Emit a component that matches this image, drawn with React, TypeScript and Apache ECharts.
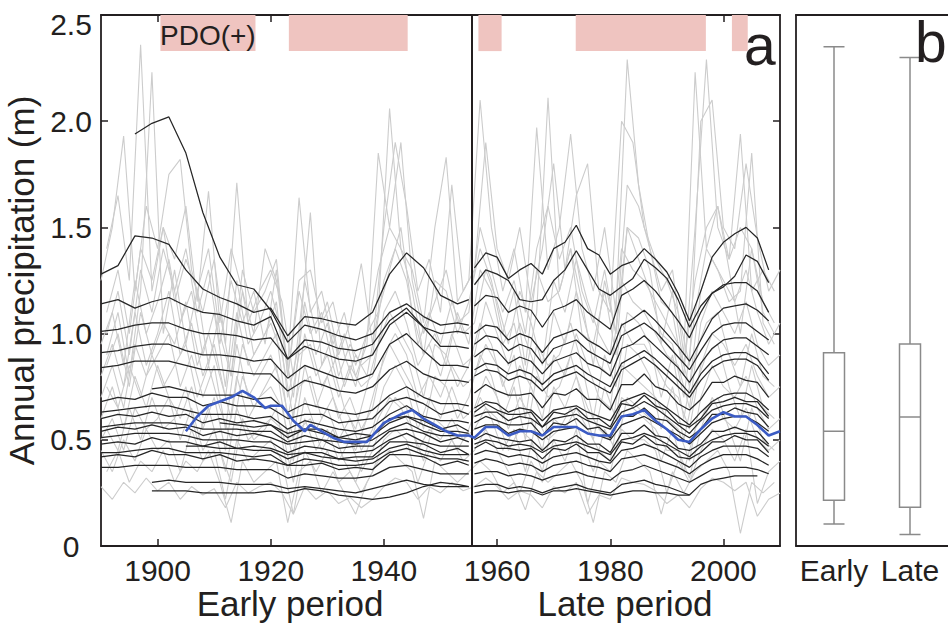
import React, { useEffect, useRef } from "react";
import * as echarts from "echarts";

const FONT = "'Liberation Sans', Arial, sans-serif";
const INK = "#231f20";
const N = null;

// ---- axes / annotations ----
const X_TICKS = [1900, 1920, 1940, 1960, 1980, 2000];
const PERIOD_SPLIT = 1955.5;
const PDO_START = [1900.5, 1923.2, 1956.7, 1973.9, 2001.5];
const PDO_END = [1917.3, 1944.2, 1960.8, 1996.9, 2004.3];
const PDO_BOTTOM = 2.33;
const PDO_TOP = 2.5;
const BOX_CATEGORIES = ["Early", "Late"];
// [min, Q1, median, Q3, max] in metres
const BOX_EARLY = [0.103, 0.215, 0.54, 0.91, 2.35];
const BOX_LATE = [0.054, 0.183, 0.607, 0.951, 2.3];

// ---- annual station series (grey), values in centimetres ----
const GRAY_EVEN_YEARS = Array.from({ length: 61 }, (_, i) => 1890 + 2 * i);
const GRAY_ODD_YEARS = Array.from({ length: 60 }, (_, i) => 1891 + 2 * i);

const G_E1 = [125,150,193,120,160,140,175,182,130,110,135,95,171,105,120,130,115,80,125,100,115,90,105,133,95,150,190,160,120,135,110,170,120,130,190,140,125,150,115,140,180,130,165,180,120,110,200,190,150,135,125,110,85,200,210,150,140,180,145,120,130];
const G_E2 = [80,95,75,110,85,100,120,90,105,80,95,70,110,85,95,105,90,60,100,80,90,70,85,75,80,110,120,105,85,95,80,100,85,90,115,100,85,105,90,75,110,95,120,100,85,80,125,115,110,100,90,85,65,105,120,110,100,115,95,85,90];
const G_E3 = [60,75,55,80,65,85,70,60,75,55,70,45,80,60,70,75,65,40,70,55,65,50,60,45,55,75,85,75,55,70,60,75,60,65,80,70,55,70,60,45,75,65,80,65,55,50,85,80,75,70,60,55,40,70,85,75,70,80,65,55,60];
const G_E4 = [45,35,50,40,55,45,50,35,55,40,45,22,50,40,45,50,40,15,45,35,45,30,35,25,35,50,55,50,30,45,40,50,40,45,55,45,35,25,40,30,50,40,55,20,40,35,55,50,50,45,25,40,30,45,55,50,40,55,20,35,40];
const G_E5 = [28,22,30,25,32,26,30,22,28,24,27,18,30,25,28,30,25,15,28,22,26,20,23,18,22,28,32,30,22,28,25,30,26,28,32,28,22,26,24,18,28,25,30,15,24,22,32,30,29,26,20,24,18,27,32,30,26,30,14,22,25];
const G_E6 = [70,85,65,95,80,90,100,75,90,70,85,55,95,70,80,90,75,50,85,65,80,60,70,55,65,90,100,90,70,80,70,85,75,80,95,85,70,85,75,60,90,80,100,85,70,65,105,95,95,85,75,70,55,85,100,95,85,95,80,70,75];
const G_E7 = [95,110,85,125,100,115,135,105,120,90,110,75,125,95,105,120,100,70,115,90,105,80,95,85,90,125,140,125,95,110,95,115,100,105,130,115,95,120,105,85,125,110,135,115,100,90,140,130,125,115,105,95,75,120,135,125,115,130,110,95,105];
const G_E8 = [50,60,45,65,55,60,70,50,65,45,55,35,65,50,55,60,55,30,60,45,55,40,50,35,45,60,70,65,45,55,50,60,50,55,65,60,45,55,50,35,60,55,65,55,45,40,70,65,60,55,45,45,32,55,70,60,55,65,50,45,50];
const G_O1 = [140,165,125,236,120,150,135,160,115,167,105,140,120,100,140,125,85,164,110,120,95,110,85,100,110,206,140,130,105,150,183,115,125,210,150,120,140,110,197,130,150,194,140,120,150,110,229,170,140,120,130,90,223,140,160,135,194,120,130,120];
const G_O2 = [90,110,80,120,223,100,130,95,120,85,110,80,120,90,100,115,70,95,157,85,100,75,90,80,110,130,150,110,90,100,85,110,95,130,120,95,105,80,110,211,120,140,100,95,120,90,150,135,120,100,95,70,110,140,130,115,120,185,105,95];
const G_O3 = [55,45,65,50,70,55,60,75,50,65,45,30,60,50,55,65,35,55,60,45,55,40,30,45,60,70,65,55,40,60,55,45,55,70,60,45,55,35,60,50,55,65,50,35,55,45,70,65,60,40,55,35,55,65,70,55,40,65,50,45];
const G_O4 = [35,45,30,40,35,45,30,40,35,45,30,11,40,30,35,40,11,35,40,25,35,25,15,30,40,45,40,35,13,40,35,30,35,40,35,25,30,17,35,30,35,40,30,11,35,30,45,40,35,15,35,25,35,40,45,35,6,30,25,30];
const G_O5 = [100,120,90,130,110,140,120,140,110,130,95,125,105,120,95,130,80,120,100,110,85,100,80,95,185,150,190,125,100,115,130,105,110,150,130,110,125,100,140,160,135,150,120,105,130,100,170,160,140,115,110,80,150,229,150,135,150,140,115,105];
const G_O6 = [75,65,85,70,90,75,85,95,70,85,65,50,80,65,75,85,50,75,80,60,70,55,45,60,80,95,85,75,55,80,75,60,70,90,80,60,75,50,80,70,75,90,70,50,75,60,95,90,80,55,75,50,75,90,95,75,60,85,65,60];
const G_O7 = [85,100,75,110,90,105,95,115,85,100,80,60,95,80,90,100,60,90,95,75,85,65,55,75,95,110,100,90,70,95,90,75,85,105,95,75,90,60,95,85,90,105,85,60,90,75,110,105,95,70,90,60,90,105,110,90,75,100,80,75];
const G_O8 = [110,130,100,140,125,150,115,135,120,140,100,80,130,110,120,135,80,125,130,105,115,90,75,100,130,150,140,120,90,125,120,100,115,140,125,100,120,85,130,115,120,140,115,85,125,100,150,145,130,95,120,85,125,150,160,130,100,140,110,100];

// ---- early-period running means (black), centimetres ----
const EARLY_YEARS = [1890,1893,1896,1899,1902,1905,1908,1911,1914,1917,1920,1923,1926,1929,1932,1935,1938,1941,1944,1947,1950,1953,1955];
const EARLY_LINES = [
  [N,N,194,199,202,185,157,136,123,121,111,96,104,102,99,97,100,110,114,108,104,105,104],
  [128,132,146,145,142,130,121,117,114,110,112,99,108,107,105,104,110,128,138,131,118,114,116],
  [114,116,112,115,117,113,110,109,106,104,108,88,97,96,93,92,95,106,112,103,100,101,100],
  [101,102,104,105,105,102,100,100,99,97,98,88,94,91,88,87,90,104,110,103,94,94,93],
  [91,92,94,95,95,92,90,90,89,87,88,79,85,82,79,78,81,95,100,92,85,85,84],
  [84,85,87,87,87,85,83,83,82,81,81,73,78,76,73,72,75,83,87,81,78,78,77],
  [N,N,N,74,75,73,71,71,71,69,70,63,67,65,63,62,64,71,75,70,67,67,66],
  [68,70,69,72,70,70,66,68,66,66,65,60,62,62,58,59,60,68,70,67,62,64,62],
  [63,64,65,66,66,64,62,62,62,60,61,55,59,57,55,54,56,62,66,61,59,59,58],
  [60,62,61,63,61,62,58,60,58,59,57,53,55,55,51,53,52,60,61,59,55,57,54],
  [56,57,58,58,58,57,55,55,55,54,54,49,52,50,49,48,50,55,58,54,52,52,52],
  [54,56,55,57,55,56,52,54,52,53,51,48,49,50,46,47,47,54,55,53,49,51,49],
  [51,52,53,53,53,52,50,50,50,49,49,44,47,46,44,44,45,50,53,49,47,47,47],
  [48,49,48,51,49,49,47,49,46,47,46,43,44,44,41,42,42,49,49,48,44,46,43],
  [44,44,45,46,46,44,44,44,43,42,43,38,41,40,38,38,39,44,46,43,41,41,40],
  [42,43,42,45,43,43,41,43,40,41,40,38,38,39,36,37,36,43,43,42,38,40,38],
  [37,37,38,38,38,37,37,37,36,36,36,32,34,33,32,32,33,37,38,36,34,34,34],
  [N,N,N,30,31,30,30,30,29,29,29,27,28,27,26,25,27,29,31,29,28,28,28],
  [N,N,N,26,26,26,25,25,25,25,26,25,27,26,24,23,22,23,25,28,30,29,28],
  [N,N,N,N,N,N,N,58,57,56,57,51,55,53,51,50,52,58,61,57,54,54,53],
  [N,N,N,N,N,47,47,46,46,45,45,41,44,42,41,40,41,46,48,45,43,43,43],
];

// ---- late-period running means (black), centimetres ----
const LATE_YEARS = Array.from({ length: 27 }, (_, i) => 1956 + 2 * i);
const LATE_LINES = [
  [131,138,136,126,130,133,128,140,143,151,140,137,128,132,134,140,135,129,119,106,120,136,143,147,150,145,130],
  [123,130,128,125,116,115,116,125,130,139,130,121,118,122,126,135,131,126,116,103,113,119,122,127,137,134,124],
  [113,118,117,110,113,111,103,111,113,116,110,106,102,118,121,125,120,113,106,98,110,119,123,124,124,120,110],
  [100,104,103,97,100,98,91,98,100,102,97,94,90,104,107,111,106,100,94,87,97,107,112,113,114,111,106],
  [95,99,98,92,95,93,86,93,95,97,92,89,86,99,102,105,101,95,89,83,92,100,104,105,105,101,97],
  [89,93,92,86,89,87,81,87,89,91,86,84,80,93,95,99,94,89,84,77,86,93,97,98,98,94,90],
  [83,86,85,81,83,81,76,81,83,85,81,78,75,86,89,92,88,83,78,72,81,87,90,91,91,88,81],
  [80,83,82,78,80,78,73,78,80,82,78,75,72,83,86,89,85,80,75,70,78,84,87,88,88,85,78],
  [72,76,73,71,71,72,65,72,71,74,69,69,64,76,76,81,75,73,67,64,69,77,77,80,78,77,70],
  [65,68,67,63,65,64,59,64,65,66,63,61,59,68,70,72,69,65,61,57,63,68,71,72,72,69,64],
  [63,67,64,62,62,63,56,63,62,65,60,60,56,67,66,71,66,64,58,56,60,67,68,70,68,68,61],
  [61,63,63,59,61,60,56,60,61,62,59,57,55,63,65,68,65,61,57,53,59,64,66,67,67,65,60],
  [58,61,59,57,57,58,52,58,57,60,55,56,51,61,61,65,60,59,54,51,55,62,62,65,63,62,56],
  [55,57,57,53,55,54,50,54,55,56,53,52,50,57,59,61,58,55,52,48,53,58,60,61,61,58,54],
  [50,53,51,50,49,50,45,50,49,52,48,48,44,53,53,57,52,51,46,45,48,54,54,56,54,54,48],
  [48,50,49,47,48,47,44,47,48,49,47,45,43,50,51,53,51,48,45,42,47,50,52,53,53,51,47],
  [46,49,46,46,45,46,41,46,45,48,44,44,40,49,48,52,48,47,42,41,44,49,49,52,50,50,44],
  [43,45,44,42,43,42,39,42,43,44,42,40,39,45,46,48,46,43,40,37,42,45,47,47,47,46,42],
  [39,41,40,38,39,38,35,38,39,40,38,37,35,41,42,43,41,39,37,34,38,41,43,43,43,41,38],
  [34,35,35,33,34,33,31,33,34,35,33,32,31,35,36,38,36,34,32,30,33,36,37,37,37,36,34],
  [28,29,29,27,28,27,25,27,28,29,27,26,25,29,30,31,29,28,26,24,29,31,32,33,33,33,N],
  [25,26,26,25,26,26,24,26,26,27,26,25,24,25,26,26,25,25,24,24,N,N,N,N,N,N,N],
];

// ---- all-station mean (blue), centimetres ----
const BLUE_YEARS = [1905,1907,1909,1911,1913,1915,1917,1919,1920,1922,1924,1926,1927,1929,1931,1933,1935,1937,1938,1940,1943,1945,1947,1949,1951,1953,1955,
  1956,1958,1960,1962,1964,1966,1968,1970,1972,1974,1976,1978,1980,1982,1984,1986,1988,1990,1992,1994,1996,1998,2000,2002,2004,2006,2008,2010];
const BLUE_CM = [54,61,66,68,70,73,70,65,66,66,59,54,57,54,51,49,49,49,52,58,62,64,60,57,54,52,52,
  51,56,56,52,54,54,52,56,56,56,53,52,52,61,62,64,59,55,50,49,55,60,63,61,61,57,52,54];

const toPairs = (years: number[], cm: (number | null)[]) =>
  years
    .map((y, i) => (cm[i] == null ? null : [y, (cm[i] as number) / 100]))
    .filter((p) => p !== null);

export default function App() {
  const ref = useRef<HTMLDivElement>(null);

  useEffect(() => {
    if (!ref.current) return;
    const chart = echarts.init(ref.current, null, { renderer: "svg" });

    const axisLine = { show: true, onZero: false, lineStyle: { color: INK, width: 1.8 } };
    const tickStyle = { color: INK, width: 1.5 };

    const grayEven = [G_E1, G_E2, G_E3, G_E4, G_E5, G_E6, G_E7, G_E8];
    const grayOdd = [G_O1, G_O2, G_O3, G_O4, G_O5, G_O6, G_O7, G_O8];
    const series: any[] = [];

    const grayBase = {
      type: "line",
      xAxisIndex: 0,
      yAxisIndex: 0,
      symbol: "none",
      silent: true,
      z: 1,
      lineStyle: { color: "#cccccc", width: 1.1 },
    };
    grayEven.forEach((g, i) => {
      const s: any = { ...grayBase, data: toPairs(GRAY_EVEN_YEARS, g) };
      if (i === 0) {
        s.markArea = {
          silent: true,
          itemStyle: { color: "#efc4c0" },
          data: PDO_START.map((st, k) => [
            { xAxis: st, yAxis: PDO_BOTTOM },
            { xAxis: PDO_END[k], yAxis: PDO_TOP },
          ]),
        };
      }
      series.push(s);
    });
    grayOdd.forEach((g) => series.push({ ...grayBase, data: toPairs(GRAY_ODD_YEARS, g) }));

    const blackBase = {
      type: "line",
      xAxisIndex: 0,
      yAxisIndex: 0,
      symbol: "none",
      silent: true,
      z: 3,
      lineStyle: { color: "#262626", width: 1.25 },
    };
    EARLY_LINES.forEach((l) => series.push({ ...blackBase, data: toPairs(EARLY_YEARS, l) }));
    LATE_LINES.forEach((l) => series.push({ ...blackBase, data: toPairs(LATE_YEARS, l) }));

    series.push({
      type: "line",
      xAxisIndex: 0,
      yAxisIndex: 0,
      symbol: "none",
      silent: true,
      z: 5,
      lineStyle: { color: "#3b5bc4", width: 2.6 },
      data: toPairs(BLUE_YEARS, BLUE_CM),
      markLine: {
        silent: true,
        symbol: ["none", "none"],
        label: { show: false },
        lineStyle: { color: INK, width: 2, type: "solid" },
        data: [{ xAxis: PERIOD_SPLIT }],
      },
    });

    series.push({
      type: "boxplot",
      xAxisIndex: 2,
      yAxisIndex: 2,
      silent: true,
      boxWidth: [21, 21],
      itemStyle: { color: "#ffffff", borderColor: "#8a8a8a", borderWidth: 1.5 },
      data: [BOX_EARLY, BOX_LATE],
    });

    const labelText = { fontFamily: FONT, fontSize: 30, color: INK };

    chart.setOption({
      animation: false,
      grid: [
        { left: 101, top: 15, width: 679, height: 531, containLabel: false, outerBoundsMode: "none" },
        { left: 796, top: 15, width: 152, height: 531, containLabel: false, outerBoundsMode: "none" },
      ],
      xAxis: [
        {
          type: "value", gridIndex: 0, position: "bottom", min: 1890, max: 2010,
          splitLine: { show: false }, axisLine,
          axisTick: { show: true, inside: true, length: 7, customValues: X_TICKS, lineStyle: tickStyle },
          axisLabel: { ...labelText, lineHeight: 26, customValues: X_TICKS, margin: 11, formatter: (v: number) => String(v) },
        },
        {
          type: "value", gridIndex: 0, position: "top", min: 1890, max: 2010,
          splitLine: { show: false }, axisLine,
          axisTick: { show: true, inside: true, length: 7, customValues: X_TICKS, lineStyle: tickStyle },
          axisLabel: { show: false },
        },
        {
          type: "category", gridIndex: 1, position: "bottom", data: BOX_CATEGORIES,
          axisLine, axisTick: { show: false }, splitLine: { show: false },
          axisLabel: { ...labelText, lineHeight: 26, margin: 11, interval: 0, hideOverlap: false },
        },
        {
          type: "category", gridIndex: 1, position: "top", data: BOX_CATEGORIES,
          axisLine, axisTick: { show: false }, splitLine: { show: false },
          axisLabel: { show: false },
        },
      ],
      yAxis: [
        {
          type: "value", gridIndex: 0, position: "left", min: 0, max: 2.5, interval: 0.5,
          splitLine: { show: false }, axisLine,
          axisTick: { show: true, inside: true, length: 7, lineStyle: tickStyle },
          axisLabel: {
            ...labelText,
            align: "center",
            margin: 30,
            formatter: (v: number) => (v === 0 ? "0" : v === 2.5 ? "{t|2.5}" : v.toFixed(1)),
            rich: { t: { ...labelText, padding: [18, 0, 0, 0] } },
          },
          name: "Annual precipitation (m)",
          nameLocation: "middle",
          nameGap: 50,
          nameTextStyle: { fontFamily: FONT, fontSize: 35, lineHeight: 36, color: INK },
        },
        {
          type: "value", gridIndex: 0, position: "right", min: 0, max: 2.5, interval: 0.5,
          splitLine: { show: false }, axisLine,
          axisTick: { show: true, inside: true, length: 7, lineStyle: tickStyle },
          axisLabel: { show: false },
        },
        {
          type: "value", gridIndex: 1, position: "left", min: 0, max: 2.5, interval: 0.5,
          splitLine: { show: false }, axisLine,
          axisTick: { show: false }, axisLabel: { show: false },
        },
      ],
      graphic: [
        { type: "text", x: 160, y: 35, z: 20, style: { text: "PDO(+)", font: `28px ${FONT}`, fill: INK, align: "left", verticalAlign: "middle" } },
        { type: "text", x: 744, y: 45, z: 20, style: { text: "a", font: `57px ${FONT}`, fill: INK, align: "left", verticalAlign: "middle" } },
        { type: "text", x: 915, y: 42, z: 20, style: { text: "b", font: `57px ${FONT}`, fill: INK, align: "left", verticalAlign: "middle" } },
        { type: "text", x: 290, y: 603, z: 20, style: { text: "Early period", font: `35px ${FONT}`, lineHeight: 30, fill: INK, align: "center", verticalAlign: "middle" } },
        { type: "text", x: 625, y: 603, z: 20, style: { text: "Late period", font: `35px ${FONT}`, lineHeight: 30, fill: INK, align: "center", verticalAlign: "middle" } },
      ],
      series,
    });

    return () => chart.dispose();
  }, []);

  return (
    <div
      ref={ref}
      style={{ position: "fixed", left: 0, top: 0, width: 948, height: 623, background: "#fff" }}
    />
  );
}
